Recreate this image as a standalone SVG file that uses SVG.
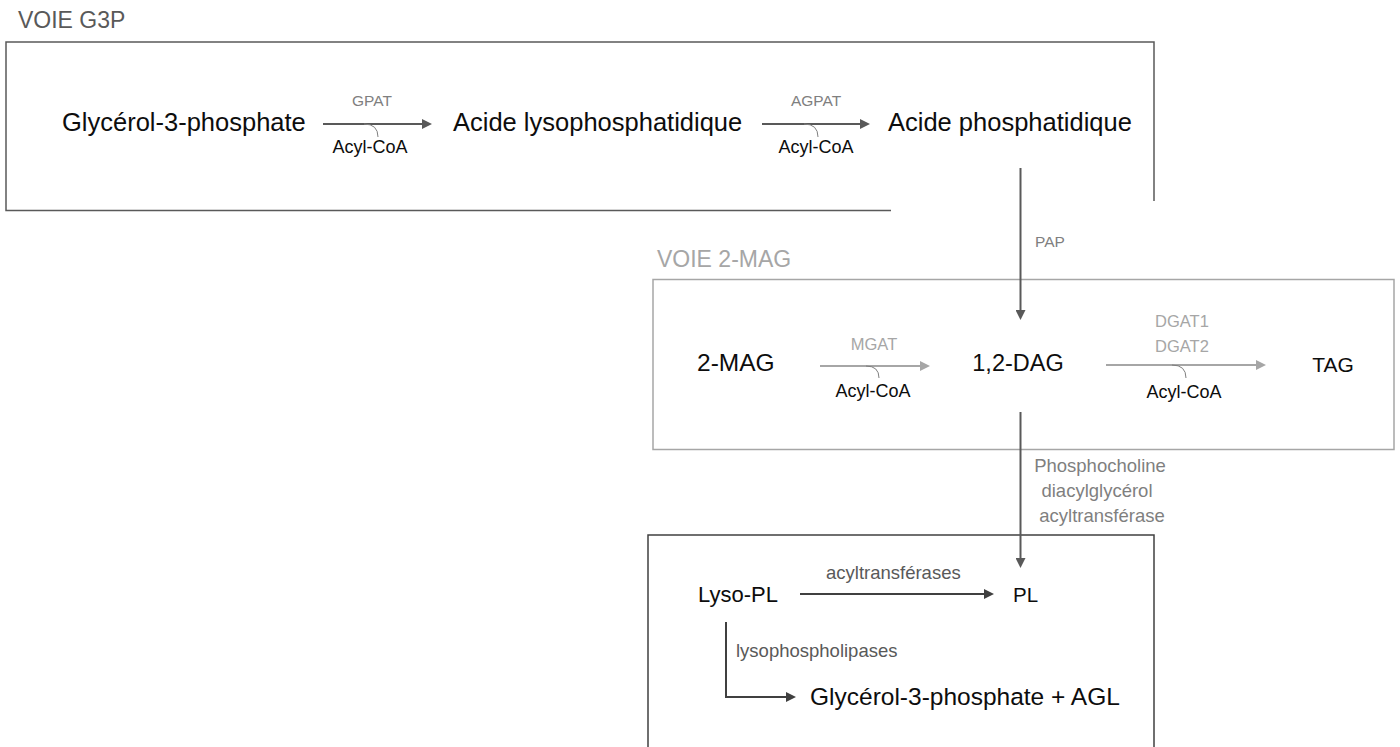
<svg xmlns="http://www.w3.org/2000/svg" width="1400" height="747" viewBox="0 0 1400 747">
<defs>
<style>
text { font-family: "Liberation Sans", Arial, sans-serif; }
.main { font-size: 25.5px; fill: #0d0d0d; }
.enz { font-size: 15.5px; fill: #7f7f7f; }
.enzl { font-size: 16.5px; fill: #a6a6a6; }
.acyl { font-size: 18px; fill: #0d0d0d; }
.lbl { font-size: 18.5px; fill: #595959; }
.lblg { font-size: 18.5px; fill: #7f7f7f; }
.head1 { font-size: 23px; fill: #595959; }
.head2 { font-size: 23px; fill: #a6a6a6; }
.mid { text-anchor: middle; }
.box1 { fill: none; stroke: #595959; stroke-width: 1.5; }
.box2 { fill: none; stroke: #a6a6a6; stroke-width: 1.5; }
.box3 { fill: none; stroke: #404040; stroke-width: 1.5; }
.arr { fill: none; stroke: #595959; stroke-width: 2; marker-end: url(#ah-dark); }
.arrl { fill: none; stroke: #a6a6a6; stroke-width: 2; marker-end: url(#ah-light); }
.arrd { fill: none; stroke: #404040; stroke-width: 2; marker-end: url(#ah-darker); }
.hook { fill: none; stroke: #7f7f7f; stroke-width: 1; }
</style>
<marker id="ah-dark" viewBox="0 0 10 10" refX="2" refY="5" markerWidth="10" markerHeight="10" markerUnits="userSpaceOnUse" orient="auto"><path d="M0,0 L10,5 L0,10 z" fill="#595959"/></marker>
<marker id="ah-light" viewBox="0 0 10 10" refX="2" refY="5" markerWidth="10" markerHeight="10" markerUnits="userSpaceOnUse" orient="auto"><path d="M0,0 L10,5 L0,10 z" fill="#a6a6a6"/></marker>
<marker id="ah-darker" viewBox="0 0 10 10" refX="2" refY="5" markerWidth="10" markerHeight="10" markerUnits="userSpaceOnUse" orient="auto"><path d="M0,0 L10,5 L0,10 z" fill="#404040"/></marker>
</defs>
<rect x="0" y="0" width="1400" height="747" fill="#ffffff"/>

<g id="box-g3p">
<path class="box1" d="M891,210.5 H6 V42 H1154 V201"/>
<text class="head1" x="18" y="28">VOIE G3P</text>
</g>
<g id="box-2mag">
<rect class="box2" x="653" y="279.5" width="741" height="170"/>
<text class="head2" x="657" y="267">VOIE 2-MAG</text>
</g>
<g id="box-pl">
<path class="box3" d="M648,747 V535 H1154 V747"/>
</g>

<g id="node-g3p"><text class="main" x="62" y="131">Glycérol-3-phosphate</text></g>
<g id="node-lpa"><text class="main" x="453" y="131">Acide lysophosphatidique</text></g>
<g id="node-pa"><text class="main" x="888" y="131">Acide phosphatidique</text></g>
<g id="node-2mag"><text class="main" x="697" y="371" style="font-size:24.5px">2-MAG</text></g>
<g id="node-dag"><text class="main mid" x="1018" y="371" style="font-size:23.5px">1,2-DAG</text></g>
<g id="node-tag"><text class="main mid" x="1333" y="372" style="font-size:21px">TAG</text></g>
<g id="node-lysopl"><text class="main" x="698" y="602" style="font-size:22px">Lyso-PL</text></g>
<g id="node-pl"><text class="main" x="1013" y="602" style="font-size:20.5px">PL</text></g>
<g id="node-g3p-agl"><text class="main" x="810" y="705" style="font-size:24.5px">Glycérol-3-phosphate + AGL</text></g>

<g id="connectors">
<path class="arr" d="M323,124 H424"/>
<path class="hook" d="M364,124 Q378,124 378,137"/>
<text class="enz mid" x="372" y="106">GPAT</text>
<text class="acyl mid" x="370" y="153">Acyl-CoA</text>

<path class="arr" d="M762,124 H862"/>
<path class="hook" d="M804,124 Q818,124 818,137"/>
<text class="enz mid" x="816" y="106">AGPAT</text>
<text class="acyl mid" x="816" y="153">Acyl-CoA</text>

<path class="arr" d="M1020.5,168 V312"/>
<text class="enz" x="1035" y="247">PAP</text>

<path class="arrl" d="M820,366 H922"/>
<path class="hook" d="M866,366 Q879,366 879,378"/>
<text class="enzl mid" x="874" y="350">MGAT</text>
<text class="acyl mid" x="873" y="397">Acyl-CoA</text>

<path class="arrl" d="M1106,365 H1258"/>
<path class="hook" d="M1172,365 Q1186,365 1186,378"/>
<text class="enzl mid" x="1182" y="327">DGAT1</text>
<text class="enzl mid" x="1182" y="352">DGAT2</text>
<text class="acyl mid" x="1184" y="398">Acyl-CoA</text>

<path class="arr" d="M1020.5,412 V560"/>
<text class="lblg mid" x="1100" y="472">Phosphocholine</text>
<text class="lblg mid" x="1097" y="497">diacylglycérol</text>
<text class="lblg mid" x="1102" y="522">acyltransférase</text>

<path class="arrd" d="M800,594 H986"/>
<text class="lbl" x="826" y="579">acyltransférases</text>

<path class="arrd" d="M726,622 V697 H788"/>
<text class="lbl" x="736" y="657">lysophospholipases</text>
</g>
</svg>
